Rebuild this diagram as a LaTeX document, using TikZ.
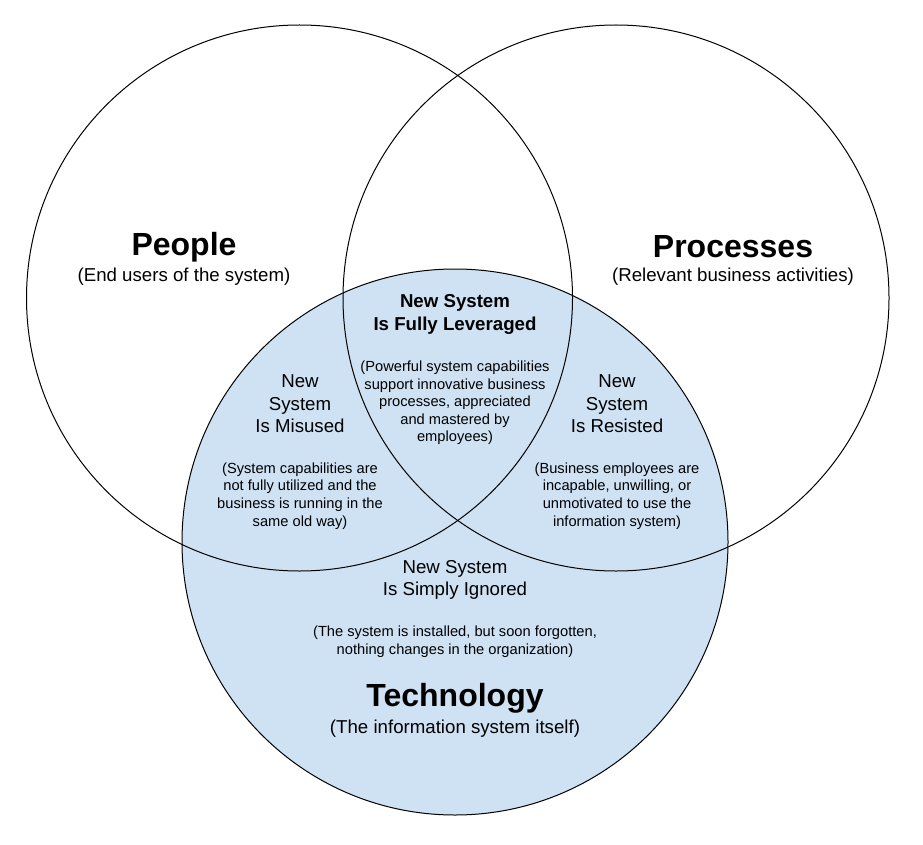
\documentclass[tikz,border=0pt]{standalone}
\usepackage{fontspec}
\setmainfont{Liberation Sans}
\definecolor{techblue}{HTML}{CFE2F3}

\begin{document}
\begin{tikzpicture}[
  x=1pt, y=-1pt,
  every node/.style={align=center, inner sep=0pt},
  ring/.style={circle, draw, line width=1pt, minimum size=546pt},
  title/.style={font=\fontsize{32}{38}\selectfont\bfseries},
  subtitle/.style={font=\fontsize{18.67}{22.4}\selectfont},
  label/.style={font=\fontsize{18.67}{22.4}\selectfont},
  note/.style={font=\fontsize{14.67}{17.6}\selectfont}
]
\useasboundingbox (0,0) rectangle (923,845);

% Circles
\node[ring, fill=techblue] (tech) at (455,542) {};
\node[ring] (people) at (299.5,298) {};
\node[ring] (processes) at (616,298) {};

% People
\node[title] (peopletitle) at (184,247) {People};
\node[subtitle] (peoplesub) at (184,277) {(End users of the system)};

% Processes
\node[title] (processtitle) at (733,247) {Processes};
\node[subtitle] (processsub) at (733,277) {(Relevant business activities)};

% All three
\node[label, font=\fontsize{18.67}{23}\selectfont\bfseries] (fully) at (455,314) {New System\\Is Fully Leveraged};
\node[note] (fullynote) at (455,403) {(Powerful system capabilities\\support innovative business\\processes, appreciated\\and mastered by\\employees)};

% People and technology
\node[label] (misused) at (300,404) {New\\System\\Is Misused};
\node[note] (misusednote) at (300,496) {(System capabilities are\\not fully utilized and the\\business is running in the\\same old way)};

% Processes and technology
\node[label] (resisted) at (617,404) {New\\System\\Is Resisted};
\node[note] (resistednote) at (617,496) {(Business employees are\\incapable, unwilling, or\\unmotivated to use the\\information system)};

% Technology only
\node[label] (ignored) at (455,580) {New System\\Is Simply Ignored};
\node[note] (ignorednote) at (455,642) {(The system is installed, but soon forgotten,\\nothing changes in the organization)};

% Technology
\node[title] (techtitle) at (455,698) {Technology};
\node[subtitle] (techsub) at (455,729) {(The information system itself)};

\end{tikzpicture}
\end{document}
